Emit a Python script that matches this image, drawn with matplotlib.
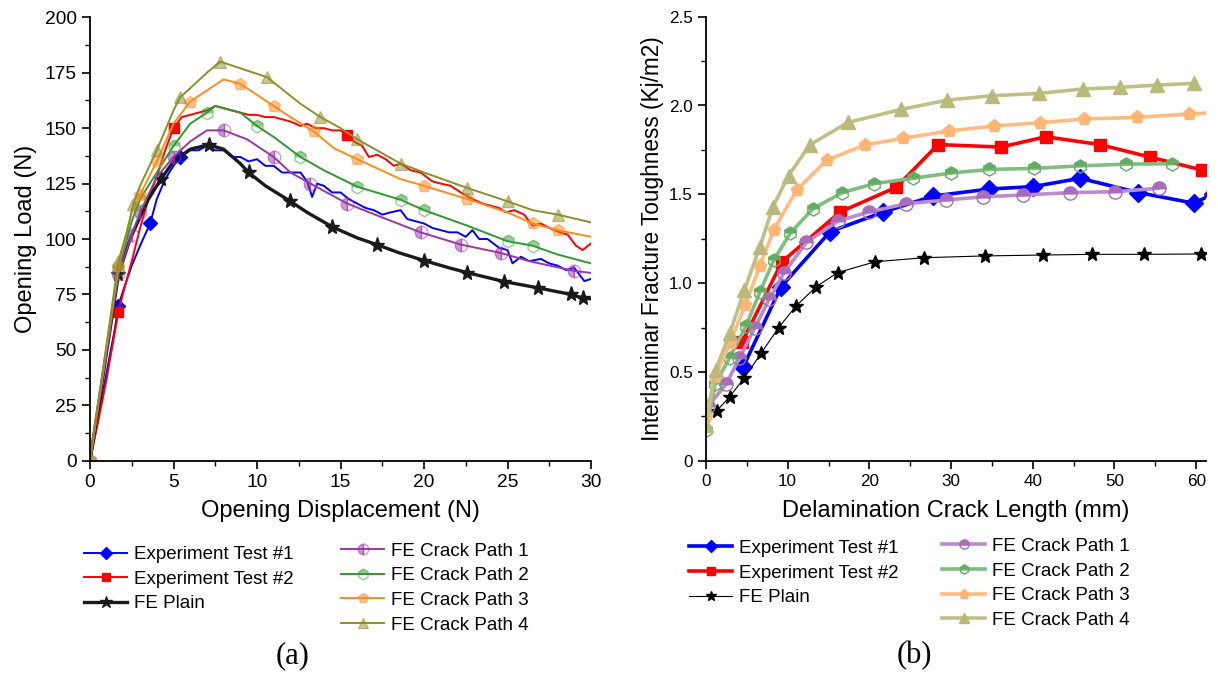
import matplotlib
matplotlib.use("Agg")
import matplotlib.pyplot as plt
from matplotlib.ticker import MultipleLocator, FuncFormatter

plt.rcParams['font.family'] = ['Liberation Sans', 'DejaVu Sans']

# ---------------- (a) load vs displacement ----------------
disp_t1 = [0, 0.5, 1.0, 1.5, 1.7, 2.0, 2.5, 3.0, 3.6, 4.0, 4.5, 5.0, 5.4, 6.0, 6.5, 7.0, 7.5, 8.0, 8.5, 9.0,
           9.5, 10.0, 10.5, 11.0, 11.5, 12.0, 12.6, 13.0, 13.3, 13.6, 14.0, 14.5, 15.0, 15.5, 16.0, 16.5, 17.0,
           17.5, 18.0, 18.6, 19.0, 19.5, 20.0, 20.5, 21.0, 21.5, 22.0, 22.5, 22.9, 23.3, 23.8, 24.5, 25.0, 25.3,
           25.8, 26.3, 27.0, 27.5, 28.0, 28.5, 29.0, 29.3, 29.6, 30.0]
load_t1 = [0, 20, 40, 60, 70, 77, 88, 97, 107, 118, 127, 133, 137, 140, 140, 142, 140, 140, 137, 137,
           135, 136, 133, 133, 130, 130, 130, 126, 119, 125, 124, 121, 121, 118, 116, 114, 113,
           111, 112, 113, 109, 108, 107, 105, 104, 103, 103, 101, 104, 100, 100, 96, 95, 89,
           92, 90, 91, 89, 88, 86, 87, 84, 81, 82]

disp_t2 = [0, 0.5, 1.0, 1.7, 2.0, 2.5, 3.0, 3.5, 4.0, 4.5, 5.0, 5.5, 6.0, 6.5, 7.0, 7.5, 8.0, 8.5, 9.0, 9.5,
           10.0, 10.5, 11.0, 11.5, 12.0, 12.6, 13.0, 13.5, 14.0, 14.5, 15.0, 15.4, 15.8, 16.3, 16.7, 17.2, 17.7,
           18.2, 18.6, 19.2, 19.8, 20.5, 21.0, 21.6, 22.2, 22.9, 23.5, 24.0, 24.5, 24.9, 25.4, 26.0, 26.5, 27.0,
           27.5, 28.1, 28.6, 29.1, 29.5, 30.0]
load_t2 = [0, 18, 37, 67, 76, 90, 105, 118, 128, 140, 150, 155, 156, 157, 158, 160, 159, 158, 157, 156,
           156, 155, 155, 154, 153, 151, 152, 150, 150, 149, 149, 147, 144, 142, 137, 138, 136,
           133, 134, 131, 130, 126, 125, 124, 121, 118, 116, 115, 114, 112, 113, 111, 106, 107,
           105, 103, 102, 97, 95, 98]

disp_plain = [0, 1.7, 2.4, 3.0, 3.5, 4.25, 5.0, 6.0, 7.1, 8.0, 9.0, 9.5, 10.5, 12.0, 13.0, 14.5, 16.0, 17.2,
              18.5, 20.0, 21.5, 22.6, 24.8, 26.8, 28.8, 29.5, 30.0]
load_plain = [0, 84, 100, 110, 118, 127, 135, 140.5, 142.5, 140.5, 134, 130, 124, 117, 112, 105.5, 100.5, 97.4,
              93.8, 90.3, 87, 84.8, 80.8, 78, 75, 73.4, 73]
plain_marks = [1.7, 4.25, 7.1, 9.5, 12.0, 14.5, 17.2, 20.0, 22.6, 24.8, 26.8, 28.8, 29.5]

disp_p1 = [0, 1.7, 2.5, 3.0, 4.0, 5.0, 6.0, 7.0, 8.0, 9.4, 11.0, 12.0, 13.2, 15.4, 17.4, 19.8, 22.2, 24.6,
           26.3, 29.0, 30.0]
load_p1 = [0, 84, 102, 112, 128, 137, 144, 149, 149, 145, 137, 130, 125, 116, 110, 103, 97.5, 93.7,
           90, 85.6, 84.7]

disp_p2 = [0, 1.7, 2.5, 3.0, 4.0, 5.0, 6.0, 7.0, 7.5, 8.0, 9.0, 10.0, 11.0, 12.6, 14.0, 16.0, 18.6, 20.0,
           22.6, 25.0, 26.5, 28.0, 30.0]
load_p2 = [0, 86, 108, 118, 130, 142, 152, 157, 160, 159, 157, 151, 146, 137, 131, 123.6, 117.7, 113,
           106, 99, 97, 93, 89]

disp_p3 = [0, 1.7, 2.5, 3.0, 4.0, 5.0, 6.0, 7.0, 8.0, 9.0, 10.0, 11.0, 12.0, 13.4, 14.6, 16.0, 18.6, 20.0,
           22.6, 25.0, 26.5, 28.0, 30.0]
load_p3 = [0, 88, 112, 120, 135, 152, 162, 167, 172, 170, 165, 160, 155, 148.5, 141, 136, 127, 124,
           118, 112, 107, 104, 101]

disp_p4 = [0, 1.7, 2.2, 2.6, 3.0, 4.0, 5.0, 5.4, 6.0, 7.0, 7.8, 9.0, 10.6, 12.6, 13.8, 15.0, 16.0, 18.6,
           20.0, 22.6, 25.0, 26.5, 28.0, 30.0]
load_p4 = [0, 90, 103, 116, 124, 140, 158, 164, 168, 175, 180, 177, 173, 161, 155, 150, 145, 134,
           130, 123, 117, 113, 111, 107.5]

# ---------------- (b) toughness vs crack length ----------------
crack_t1 = [4.57, 9.2, 15.2, 21.7, 27.8, 34.7, 40.0, 45.8, 52.9, 59.7, 62.0]
gic_t1 = [0.53, 0.98, 1.29, 1.40, 1.49, 1.53, 1.543, 1.59, 1.51, 1.45, 1.50]

crack_t2 = [4.45, 9.3, 16.4, 23.3, 28.4, 36.1, 41.6, 48.2, 54.3, 60.7]
gic_t2 = [0.67, 1.12, 1.40, 1.54, 1.78, 1.766, 1.824, 1.78, 1.71, 1.637]

crack_plain = [1.3, 2.9, 4.7, 6.75, 8.9, 11.0, 13.5, 16.1, 20.7, 26.7, 34.1, 41.2, 47.3, 53.6, 60.6]
gic_plain = [0.28, 0.36, 0.467, 0.605, 0.75, 0.87, 0.98, 1.059, 1.12, 1.143, 1.153, 1.158, 1.162, 1.162, 1.164]

crack_p1 = [0.3, 2.45, 4.1, 6.0, 7.75, 9.5, 12.3, 16.2, 19.9, 24.5, 29.4, 33.9, 38.8, 44.5, 50.1, 55.4]
gic_p1 = [0.31, 0.43, 0.58, 0.75, 0.91, 1.055, 1.23, 1.35, 1.40, 1.447, 1.468, 1.486, 1.496, 1.509, 1.515, 1.534]

crack_p2 = [0, 1.1, 2.9, 4.9, 6.6, 8.3, 10.3, 13.1, 16.7, 20.6, 25.3, 30.0, 34.7, 40.2, 45.8, 51.4, 57.0]
gic_p2 = [0.173, 0.43, 0.58, 0.76, 0.95, 1.13, 1.28, 1.42, 1.51, 1.56, 1.59, 1.62, 1.64, 1.646, 1.66, 1.67, 1.672]

crack_p3 = [0, 1.1, 2.9, 4.8, 6.6, 8.3, 11.1, 14.8, 19.5, 24.1, 29.7, 35.3, 40.9, 46.3, 52.8, 59.1, 62.5]
gic_p3 = [0.25, 0.47, 0.66, 0.877, 1.096, 1.30, 1.524, 1.693, 1.778, 1.815, 1.856, 1.885, 1.903, 1.924, 1.933,
          1.952, 1.96]

crack_p4 = [0, 1.2, 2.9, 4.7, 6.6, 8.2, 10.1, 12.7, 17.4, 23.9, 29.5, 35.0, 40.7, 46.1, 50.7, 55.2, 59.7]
gic_p4 = [0.2, 0.51, 0.717, 0.96, 1.205, 1.43, 1.605, 1.778, 1.905, 1.978, 2.03, 2.055, 2.068, 2.093, 2.102,
          2.115, 2.125]

labels = ["Experiment Test #1", "Experiment Test #2", "FE Plain",
          "FE Crack Path 1", "FE Crack Path 2", "FE Crack Path 3", "FE Crack Path 4"]


def rgba(c, a):
    c = matplotlib.colors.to_rgb(c)
    return (c[0], c[1], c[2], a)


def style_axis(ax, tick_size):
    ax.spines['top'].set_visible(False)
    ax.spines['right'].set_visible(False)
    for s in ('left', 'bottom'):
        ax.spines[s].set_linewidth(1.3)
    ax.tick_params(which='major', direction='out', length=6, width=1.2, labelsize=tick_size, colors='black')
    ax.tick_params(which='minor', direction='out', length=3.5, width=1.0)


fig = plt.figure(figsize=(12.18, 6.80), dpi=100)
ax1 = fig.add_axes([90 / 1218, 1 - 460.7 / 680, 501 / 1218, 443.4 / 680])
ax2 = fig.add_axes([706 / 1218, 1 - 460.7 / 680, 500 / 1218, 444 / 680])

# left panel
c_p1, c_p2, c_p3, c_p4 = '#9a36a6', '#2e9a2e', '#ff8a1e', '#8e8e2c'
h = []
h += ax1.plot(disp_t1, load_t1, color='#0000ff', lw=1.4, marker='D', ms=7, markevery=[4, 8, 12], label=labels[0])
h += ax1.plot(disp_t2, load_t2, color='#ff0000', lw=1.4, marker='s', ms=7, markevery=[3, 10, 31], label=labels[1])
h += ax1.plot(disp_plain, load_plain, color='#1a1a1a', lw=2.4, marker='*', ms=11,
              markevery=[disp_plain.index(v) for v in plain_marks], label=labels[2])
for xs, ys, col, mk, fs, lab in [(disp_p1, load_p1, c_p1, 'o', 'left', labels[3]),
                                 (disp_p2, load_p2, c_p2, 'h', 'top', labels[4]),
                                 (disp_p3, load_p3, c_p3, 'p', 'full', labels[5]),
                                 (disp_p4, load_p4, c_p4, '^', 'full', labels[6])]:
    h += ax1.plot(xs, ys, color=col, lw=1.4, marker=mk, ms=9, fillstyle=fs,
                  markerfacecolor=rgba(col, 0.5), markeredgecolor=rgba(col, 0.5),
                  markevery=0.08, label=lab)

ax1.set_xlim(0, 30)
ax1.set_ylim(0, 200)
ax1.xaxis.set_major_locator(MultipleLocator(5))
ax1.xaxis.set_minor_locator(MultipleLocator(2.5))
ax1.yaxis.set_major_locator(MultipleLocator(25))
ax1.yaxis.set_minor_locator(MultipleLocator(12.5))
style_axis(ax1, 13.8)
ax1.set_xlabel("Opening Displacement (N)", fontsize=17)
ax1.set_ylabel("Opening Load (N)", fontsize=17)
ax1.xaxis.set_label_coords(0.5, -0.113)
ax1.xaxis.label.set_va('center')
ax1.yaxis.set_label_coords(-0.128, 0.5)
ax1.yaxis.label.set_va('center')

leg_kw = dict(frameon=False, fontsize=13.5, borderpad=0, borderaxespad=0, handlelength=2.3,
              handletextpad=0.35, labelspacing=0.4, loc='upper left')
fig.legend(handles=h[:3], bbox_to_anchor=(84 / 1218, 0.197), markerscale=0.85, **leg_kw)
fig.legend(handles=h[3:], bbox_to_anchor=(341 / 1218, 0.202), markerscale=0.85, **leg_kw)

# right panel
g = []
g += ax2.plot(crack_t1, gic_t1, color='#0000ff', lw=2.6, marker='D', ms=9, label=labels[0])
g += ax2.plot(crack_t2, gic_t2, color='#ff0000', lw=2.6, marker='s', ms=9, label=labels[1])
g += ax2.plot(crack_plain, gic_plain, color='black', lw=0.8, marker='*', ms=10, label=labels[2])
for xs, ys, lc, mc, mk, fs, lab in [(crack_p1, gic_p1, '#bb8cc8', '#a86cba', 'o', 'top', labels[3]),
                                    (crack_p2, gic_p2, '#7fbe7f', '#62ad62', 'h', 'top', labels[4]),
                                    (crack_p3, gic_p3, '#ffbb82', '#ffb574', 'p', 'full', labels[5]),
                                    (crack_p4, gic_p4, '#c0c086', '#b9b97a', '^', 'full', labels[6])]:
    g += ax2.plot(xs, ys, color=lc, lw=2.6, marker=mk, ms=9.5, fillstyle=fs,
                  markerfacecolor=mc, markeredgecolor=mc, label=lab)

ax2.set_xlim(0, 61.2)
ax2.set_ylim(0, 2.5)
ax2.xaxis.set_major_locator(MultipleLocator(10))
ax2.xaxis.set_minor_locator(MultipleLocator(5))
ax2.yaxis.set_major_locator(MultipleLocator(0.5))
ax2.yaxis.set_minor_locator(MultipleLocator(0.25))
ax2.yaxis.set_major_formatter(FuncFormatter(lambda v, p: "0" if abs(v) < 1e-9 else "%.1f" % v))
style_axis(ax2, 12.3)
ax2.set_xlabel("Delamination Crack Length (mm)", fontsize=17)
ax2.set_ylabel("Interlaminar Fracture Toughness (Kj/m2)", fontsize=16.3)
ax2.xaxis.set_label_coords(0.5, -0.113)
ax2.xaxis.label.set_va('center')
ax2.yaxis.set_label_coords(-0.106, 0.5)
ax2.yaxis.label.set_va('center')

fig.legend(handles=g[:3], bbox_to_anchor=(689 / 1218, 0.206), markerscale=0.7, **leg_kw)
fig.legend(handles=g[3:], bbox_to_anchor=(942 / 1218, 0.209), markerscale=0.7, **leg_kw)

fig.text(293 / 1218, 1 - 656 / 680, "(a)", ha='center', va='center', fontsize=22, family='Liberation Serif')
fig.text(914 / 1218, 1 - 656 / 680, "(b)", ha='center', va='center', fontsize=22, family='Liberation Serif')

fig.savefig("out.png", dpi=100)
